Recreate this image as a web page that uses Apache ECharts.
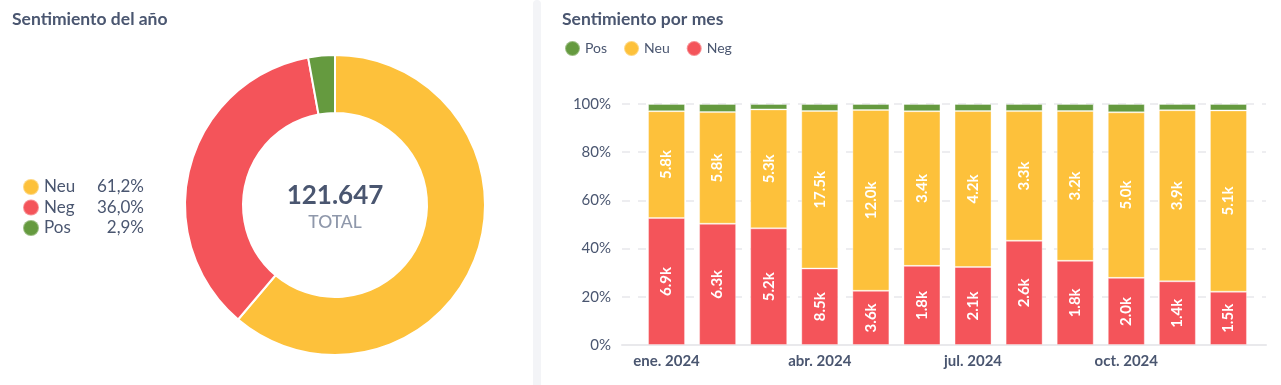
<!DOCTYPE html>
<html>
<head>
<meta charset="utf-8">
<script src="https://cdn.jsdelivr.net/npm/echarts@6/dist/echarts.min.js"></script>
<style>
html,body{margin:0;padding:0;background:#fff;}
#c{width:1281px;height:385px;}
</style>
</head>
<body>
<div id="c"></div>
<script>
// Year totals (donut)
const yearNames = ['Neu', 'Neg', 'Pos'];
const yearCounts = [74420, 43740, 3487];

// Monthly data
const months = ['ene. 2024','feb. 2024','mar. 2024','abr. 2024','may. 2024','jun. 2024','jul. 2024','ago. 2024','sept. 2024','oct. 2024','nov. 2024','dic. 2024'];
const negCounts = [6900, 6300, 5200, 8500, 3600, 1760, 2100, 2640, 1800, 2020, 1440, 1500];
const neuCounts = [5800, 5800, 5300, 17500, 12000, 3440, 4200, 3280, 3200, 4980, 3870, 5100];
const posCounts = [390, 420, 240, 780, 400, 160, 190, 180, 150, 250, 140, 180];
const yTicks = ['0%','20%','40%','60%','80%','100%'];

const COLORS = {Pos:'#659a3f', Neu:'#fdc13b', Neg:'#f4545a'};
const TXT = '#4a5670';
const FONT = 'Lato, "Noto Sans", sans-serif';

const totals = months.map((m,i)=>negCounts[i]+neuCounts[i]+posCounts[i]);
const pct = arr => arr.map((v,i)=> v/totals[i]*100);
const yearTotal = yearCounts.reduce((a,b)=>a+b,0);
const fmtK = v => (v/1000).toFixed(1)+'k';
const fmtPct = v => (v/yearTotal*100).toFixed(1).replace('.', ',') + '%';
const fmtThousands = v => String(v).replace(/\B(?=(\d{3})+(?!\d))/g, '.');

const chart = echarts.init(document.getElementById('c'), null, {renderer:'canvas'});

function barSeries(name, counts, showLabel){
  return {
    name, type:'bar', stack:'s', xAxisIndex:0, yAxisIndex:0,
    barWidth: 37,
    data: pct(counts),
    itemStyle:{color:COLORS[name], borderColor:'rgba(255,255,255,0.35)', borderWidth:1},
    label: showLabel ? {
      show:true, position:'inside', rotate:90, color:'#fff', fontFamily:FONT,
      fontWeight:'bold', fontSize:15,
      formatter: p => fmtK(counts[p.dataIndex])
    } : {show:false},
    emphasis:{disabled:true}
  };
}

chart.setOption({
  animation:false,
  textStyle:{fontFamily:FONT},
  title:[
    {text:'Sentimiento del año', left:12, top:10, padding:0, textStyle:{fontFamily:FONT, fontSize:17.5, fontWeight:'bold', color:TXT}},
    {text:'Sentimiento por mes', left:562, top:10, padding:0, textStyle:{fontFamily:FONT, fontSize:17.5, fontWeight:'bold', color:TXT}}
  ],
  legend:[
    {
      data: yearNames, orient:'vertical', left:22, top:178, padding:0, icon:'circle',
      itemWidth:16, itemHeight:16, itemGap:2.5, selectedMode:false,
      formatter: name => '{n|'+name+'}{v|'+fmtPct(yearCounts[yearNames.indexOf(name)])+'}',
      textStyle:{rich:{
        n:{fontFamily:FONT, fontSize:17, color:TXT, width:40, lineHeight:18},
        v:{fontFamily:FONT, fontSize:17, color:TXT, width:60, align:'right', lineHeight:18}
      }}
    },
    {
      data:['Pos','Neu','Neg'], left:564, top:40, padding:0, icon:'circle',
      itemWidth:15, itemHeight:15, itemGap:16, selectedMode:false,
      textStyle:{fontFamily:FONT, fontSize:14, color:TXT}
    }
  ],
  grid:[
    {left:641, right:27, top:104, bottom:40},
    {left:622, right:15, top:104, bottom:40}
  ],
  xAxis:[
    {type:'category', gridIndex:0, data:months, boundaryGap:true,
     axisLine:{show:false}, axisTick:{show:false},
     axisLabel:{interval:2, color:TXT, fontFamily:FONT, fontSize:15, fontWeight:'bold', margin:9}},
    {type:'value', gridIndex:1, min:0, max:1, show:true,
     axisLine:{show:true, onZero:false, lineStyle:{color:'#e9e9ec', width:2}},
     axisTick:{show:false}, axisLabel:{show:false}, splitLine:{show:false}}
  ],
  yAxis:[
    {type:'value', gridIndex:0, min:0, max:100, interval:20, show:false, splitLine:{show:false}},
    {type:'value', gridIndex:1, min:0, max:100, interval:20,
     axisLine:{show:false}, axisTick:{show:false},
     axisLabel:{color:TXT, fontFamily:FONT, fontSize:15, margin:11,
       formatter: v => yTicks[Math.round(v/20)]},
     splitLine:{show:true, lineStyle:{color:'#e8e8ec', type:[8,8], width:1.5}}}
  ],
  series:[
    {
      type:'pie', center:[335,205], radius:[92,150], startAngle:90, clockwise:true,
      label:{show:false}, labelLine:{show:false}, emphasis:{disabled:true},
      itemStyle:{borderColor:'#fff', borderWidth:2},
      data: yearNames.map((n,i)=>({name:n, value:yearCounts[i], itemStyle:{color:COLORS[n]}}))
    },
    barSeries('Neg', negCounts, true),
    barSeries('Neu', neuCounts, true),
    barSeries('Pos', posCounts, false)
  ],
  graphic:[
    {type:'rect', left:533, top:0, shape:{width:8, height:385, r:[4,4,0,0]}, style:{fill:'#f3f4f7'}, silent:true},
    {type:'text', x:335, y:196, style:{text:fmtThousands(yearTotal), font:'bold 26px '+FONT, fill:TXT, textAlign:'center', textVerticalAlign:'middle'}, silent:true},
    {type:'text', x:335, y:222, style:{text:'TOTAL', font:'500 17.5px '+FONT, fill:'#8f98ab', textAlign:'center', textVerticalAlign:'middle'}, silent:true}
  ]
});
</script>
</body>
</html>
